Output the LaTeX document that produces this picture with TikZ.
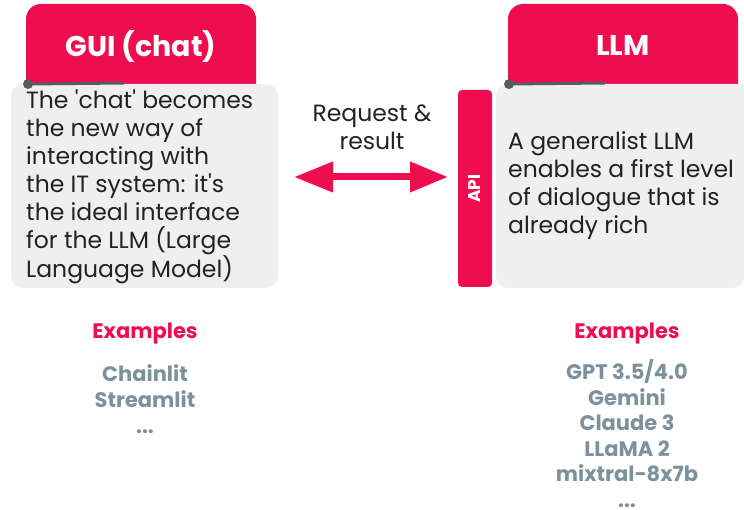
\documentclass[tikz,border=0pt]{standalone}
\usepackage{fontspec}
\setmainfont{Poppins}
\usetikzlibrary{arrows.meta}
\definecolor{brand}{HTML}{EE0E50}
\definecolor{boxgray}{HTML}{EFEFEF}
\definecolor{itemgray}{HTML}{7D919C}
\definecolor{dotgray}{HTML}{5A5A5A}
\definecolor{txt}{HTML}{222222}
\tikzset{
  header/.style={fill=brand, rounded corners=15pt},
  panel/.style={fill=boxgray},
  bodytext/.style={align=left, inner sep=0pt, text=txt, font=\fontsize{23.5}{28}\selectfont},
  headtext/.style={inner sep=0pt, text=white, font=\fontsize{28.5}{32}\selectfont\bfseries},
  extitle/.style={inner sep=0pt, text=brand, font=\fontsize{21}{24}\selectfont\bfseries},
  exitems/.style={align=center, inner sep=0pt, text=itemgray, font=\fontsize{21}{25.6}\selectfont\bfseries},
  pin/.style={fill=dotgray, draw=none},
  pinline/.style={draw=dotgray, line width=3pt},
}
\begin{document}
\begin{tikzpicture}[x=1pt,y=-1pt]
\useasboundingbox (0,0) rectangle (744,510);
% left column
\fill[header] (26,4) rectangle (256,100);
\node[headtext] (guih) at (141,46) {GUI (chat)};
\fill[panel, rounded corners=12pt] (11,84) rectangle (278,288);
\coordinate (lpinend) at (124,83);
\node[pin, circle, minimum size=10pt, inner sep=0pt] (lpin) at (28,84) {};
\draw[pinline] (lpin.center) -- (lpinend);
\node[bodytext, anchor=base west] (guitext) at (26,278) {The \textquotesingle chat\textquotesingle{} becomes\\the new way of\\interacting with\\the IT system: it\textquotesingle s\\the ideal interface\\for the LLM (Large\\Language Model)};
\node[extitle] (ex1) at (145,334) {Examples};
\node[exitems, anchor=base] (items1) at (145,433) {Chainlit\\Streamlit\\...};
% right column
\fill[header] (508,4) rectangle (738,100);
\node[headtext] (llmh) at (623,46) {LLM};
\fill[panel, rounded corners=12pt] (744,84) -- (496,84) -- (496,288) -- (744,288) [sharp corners] -- cycle;
\coordinate (rpinend) at (605,83);
\node[pin, circle, minimum size=10pt, inner sep=0pt] (rpin) at (509,84) {};
\draw[pinline] (rpin.center) -- (rpinend);
\node[bodytext, anchor=base west] (llmtext) at (508,234) {A generalist LLM\\enables a first level\\of dialogue that is\\already rich};
\node[extitle] (ex2) at (627,334) {Examples};
\node[exitems, anchor=base] (items2) at (627,507.5) {GPT 3.5/4.0\\Gemini\\Claude 3\\LLaMA 2\\mixtral-8x7b\\...};
% API bar
\node[fill=brand, rounded corners=4pt, minimum width=34pt, minimum height=197pt, inner sep=0pt] (api) at (475,188.5) {};
\node[rotate=90, text=white, font=\fontsize{17}{20}\selectfont\bfseries, inner sep=0pt] (apit) at (api.center) {API};
% arrow
\coordinate (aL) at (294,177);
\coordinate (aR) at (448,177);
\draw[brand, line width=7pt, {Triangle[length=39pt,width=29pt]}-{Triangle[length=38pt,width=29pt]}] (aL) -- (aR);
\node[bodytext, align=center, anchor=base] (req) at (372,150) {Request \&\\result};
\end{tikzpicture}
\end{document}
